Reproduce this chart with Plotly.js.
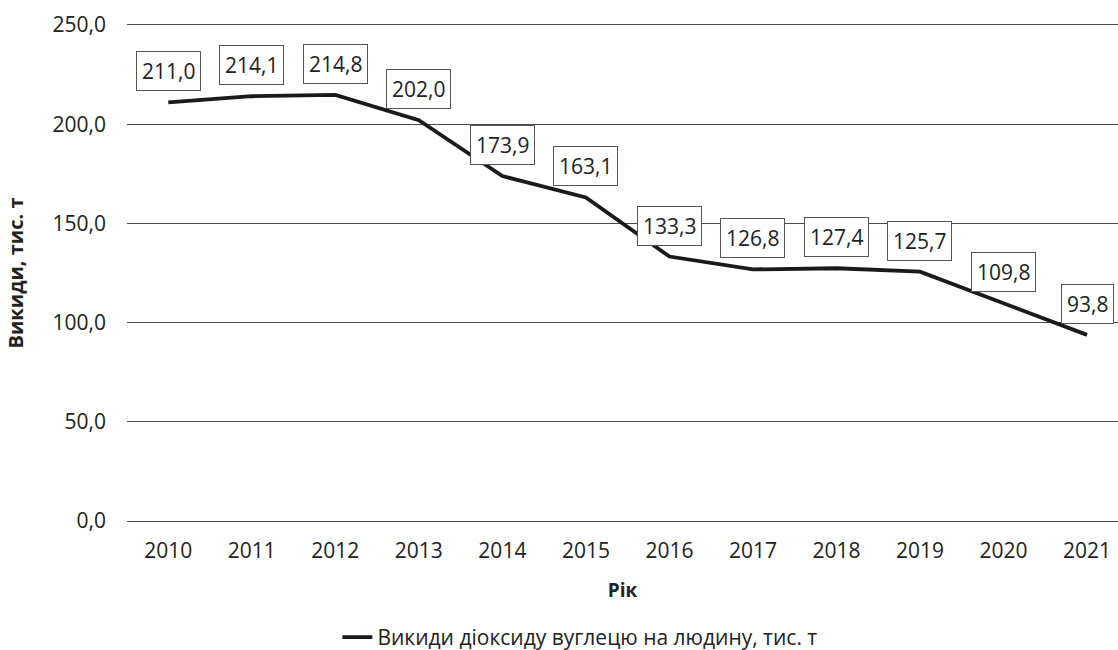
<!DOCTYPE html>
<html>
<head>
<meta charset="utf-8">
<script src="https://cdn.plot.ly/plotly-3.0.1.min.js"></script>
<style>html,body{margin:0;padding:0;background:#fff;}#chart{width:1118px;height:650px;}</style>
</head>
<body>
<div id="chart"></div>
<script>
const years = ['2010','2011','2012','2013','2014','2015','2016','2017','2018','2019','2020','2021'];
const emissions = [211.0, 214.1, 214.8, 202.0, 173.9, 163.1, 133.3, 126.8, 127.4, 125.7, 109.8, 93.8];
const yTicks = [0, 50, 100, 150, 200, 250];
const seriesName = 'Викиди діоксиду вуглецю на людину, тис. т';
const xTitle = 'Рік';
const yTitle = 'Викиди, тис. т';

const FONT = 'Open Sans, Noto Sans, sans-serif';
const fmt = v => v.toFixed(1).replace('.', ',');

const trace = {
  x: years,
  y: emissions,
  type: 'scatter',
  mode: 'lines',
  name: seriesName,
  line: {color: '#1a1a1a', width: 3.8},
  hoverinfo: 'skip'
};

// category axis annotations use the category index
const annotations = years.map((yr, i) => ({
  x: i,
  y: emissions[i],
  xref: 'x',
  yref: 'y',
  text: fmt(emissions[i]),
  showarrow: false,
  yshift: 31,
  font: {family: FONT, size: 21, color: '#222'},
  bgcolor: '#ffffff',
  bordercolor: '#555555',
  borderwidth: 1,
  borderpad: 5
}));

const layout = {
  width: 1118,
  height: 650,
  margin: {l: 127, r: 0, t: 25, b: 129, pad: 0, autoexpand: false},
  paper_bgcolor: '#ffffff',
  plot_bgcolor: '#ffffff',
  separators: ', ',
  font: {family: FONT, size: 21, color: '#222'},
  showlegend: true,
  legend: {
    orientation: 'h',
    x: 0.457, xanchor: 'center',
    y: -0.235, yanchor: 'middle',
    font: {family: FONT, size: 21, color: '#222'},
    bgcolor: 'rgba(0,0,0,0)'
  },
  xaxis: {
    type: 'category',
    range: [-0.4945, 11.371],
    showgrid: false,
    zeroline: false,
    showline: true,
    mirror: true,
    linecolor: '#4a4a4a',
    linewidth: 1,
    ticks: '',
    ticklabelstandoff: 11,
    tickfont: {family: FONT, size: 21, color: '#222'},
    title: {text: xTitle, font: {family: FONT, size: 19, color: '#222', weight: 'bold'}, standoff: 20},
    automargin: false,
    fixedrange: true
  },
  yaxis: {
    range: [0, 250],
    tickvals: yTicks,
    ticktext: yTicks.map(fmt),
    showgrid: true,
    gridcolor: '#4a4a4a',
    gridwidth: 1,
    zeroline: false,
    showline: false,
    ticks: '',
    ticklabelstandoff: 20,
    tickfont: {family: FONT, size: 21, color: '#222'},
    title: {text: yTitle, font: {family: FONT, size: 20, color: '#222', weight: 'bold'}, standoff: 23},
    automargin: false,
    fixedrange: true
  },
  annotations: annotations
};

Plotly.newPlot('chart', [trace], layout, {displayModeBar: false, staticPlot: true});
</script>
</body>
</html>
